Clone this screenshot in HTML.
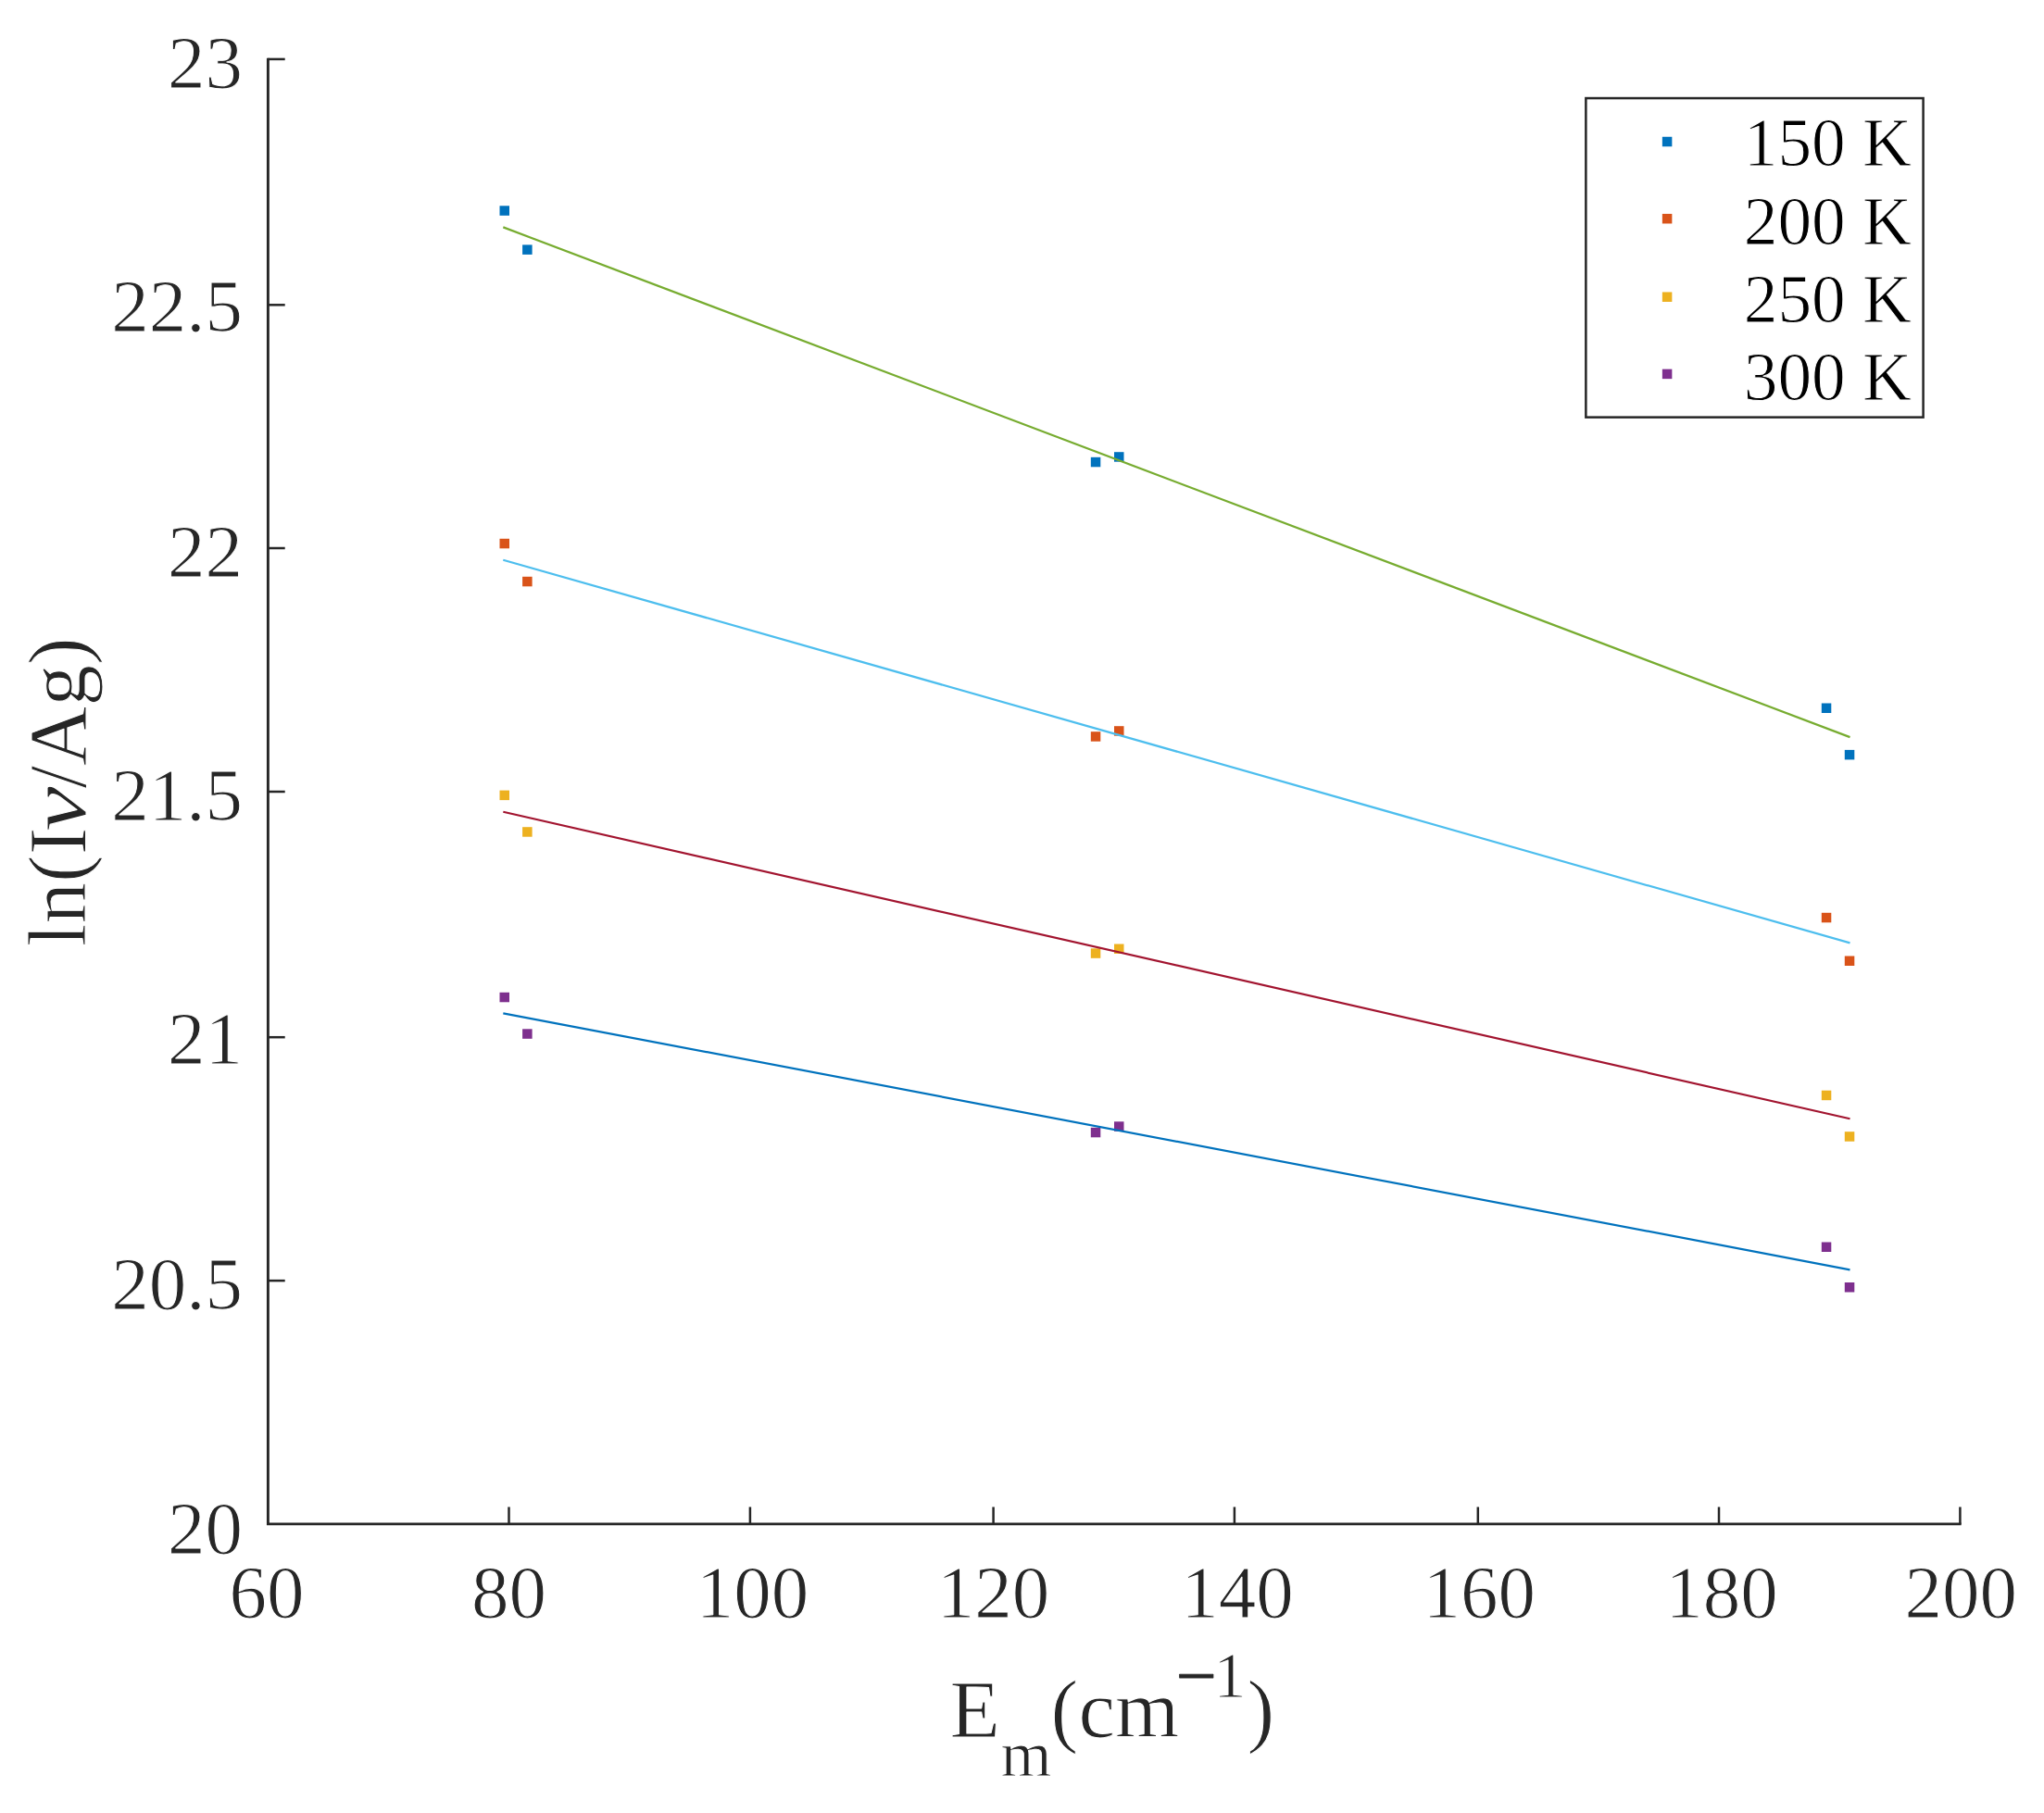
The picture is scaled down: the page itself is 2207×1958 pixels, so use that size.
<!DOCTYPE html>
<html lang="en"><head><meta charset="utf-8"><title>ln(Iν/Ag) vs Em</title>
<style>html,body{margin:0;padding:0;background:#fff}body{width:2207px;height:1958px;overflow:hidden}svg{display:block}text{font-family:"Liberation Serif","Times New Roman",serif;stroke:#fff;stroke-width:1px;stroke-linejoin:round}</style></head><body>
<svg width="2207" height="1958" viewBox="0 0 2207 1958">
<rect width="2207" height="1958" fill="#fff"/>
<g stroke="#262626" fill="none" stroke-linecap="butt">
<path stroke-width="2.9" d="M289.40 62.65 V1645.90 H2117.65"/>
<g stroke-width="2.5">
<path d="M549.50 1645.90 V1627.5"/>
<path d="M809.90 1645.90 V1627.5"/>
<path d="M1072.60 1645.90 V1627.5"/>
<path d="M1332.90 1645.90 V1627.5"/>
<path d="M1595.80 1645.90 V1627.5"/>
<path d="M1856.00 1645.90 V1627.5"/>
<path d="M2116.40 1645.90 V1627.5"/>
<path d="M289.40 63.90 H307.7"/>
<path d="M289.40 329.30 H307.7"/>
<path d="M289.40 592.00 H307.7"/>
<path d="M289.40 855.00 H307.7"/>
<path d="M289.40 1120.20 H307.7"/>
<path d="M289.40 1383.10 H307.7"/>
</g></g>
<g fill="#262626" font-size="81px">
<text x="288.1" y="1747.1" text-anchor="middle">60</text>
<text x="549.5" y="1747.1" text-anchor="middle">80</text>
<text x="812.4" y="1747.1" text-anchor="middle">100</text>
<text x="1072.6" y="1747.1" text-anchor="middle">120</text>
<text x="1335.9" y="1747.1" text-anchor="middle">140</text>
<text x="1597.2" y="1747.1" text-anchor="middle">160</text>
<text x="1859.0" y="1747.1" text-anchor="middle">180</text>
<text x="2117.3" y="1747.1" text-anchor="middle">200</text>
<text x="262" y="95.1" text-anchor="end">23</text>
<text x="262" y="357.7" text-anchor="end">22.5</text>
<text x="262" y="623.0" text-anchor="end">22</text>
<text x="262" y="885.9" text-anchor="end">21.5</text>
<text x="262" y="1148.6" text-anchor="end">21</text>
<text x="262" y="1413.8" text-anchor="end">20.5</text>
<text x="262" y="1678.0" text-anchor="end">20</text>
</g>
<g fill="#262626" font-size="89px">
<text><tspan x="1025.6" y="1875.5">E</tspan><tspan x="1080.4" y="1917.5" font-size="70.8px">m</tspan><tspan x="1134.5" y="1875.5">(</tspan><tspan x="1164.5" y="1875.5">cm</tspan><tspan x="1269.8" y="1836.2" font-size="78px" style="stroke:#262626;stroke-width:0.8px">−</tspan><tspan x="1310.3" y="1833" font-size="70.8px">1</tspan><tspan x="1346.4" y="1875.5">)</tspan></text>
<text transform="translate(91.8 857) rotate(-90)"><tspan x="-165.2" y="0">ln(I</tspan><tspan x="-41" y="0" font-style="italic" textLength="48.8" lengthAdjust="spacingAndGlyphs">ν</tspan><tspan x="5.4" y="0">/Ag)</tspan></text>
</g>
<g fill="#0072BD">
<rect x="539.5" y="222.3" width="10.5" height="10.5"/>
<rect x="564.1" y="264.4" width="10.5" height="10.5"/>
<rect x="1177.8" y="493.8" width="10.5" height="10.5"/>
<rect x="1203.0" y="488.2" width="10.5" height="10.5"/>
<rect x="1966.8" y="759.5" width="10.5" height="10.5"/>
<rect x="1991.8" y="809.9" width="10.5" height="10.5"/>
</g>
<g fill="#D95319">
<rect x="539.5" y="581.8" width="10.5" height="10.5"/>
<rect x="564.1" y="622.8" width="10.5" height="10.5"/>
<rect x="1177.8" y="790.2" width="10.5" height="10.5"/>
<rect x="1203.0" y="784.2" width="10.5" height="10.5"/>
<rect x="1966.8" y="985.8" width="10.5" height="10.5"/>
<rect x="1991.8" y="1032.5" width="10.5" height="10.5"/>
</g>
<g fill="#EDB120">
<rect x="539.5" y="853.6" width="10.5" height="10.5"/>
<rect x="564.1" y="893.2" width="10.5" height="10.5"/>
<rect x="1177.8" y="1024.3" width="10.5" height="10.5"/>
<rect x="1203.0" y="1019.5" width="10.5" height="10.5"/>
<rect x="1966.8" y="1177.7" width="10.5" height="10.5"/>
<rect x="1991.8" y="1222.2" width="10.5" height="10.5"/>
</g>
<g fill="#7E2F8E">
<rect x="539.5" y="1071.8" width="10.5" height="10.5"/>
<rect x="564.1" y="1111.3" width="10.5" height="10.5"/>
<rect x="1177.8" y="1217.8" width="10.5" height="10.5"/>
<rect x="1203.0" y="1211.3" width="10.5" height="10.5"/>
<rect x="1966.8" y="1341.5" width="10.5" height="10.5"/>
<rect x="1991.8" y="1385.0" width="10.5" height="10.5"/>
</g>
<line x1="543.3" y1="245.4" x2="1997.5" y2="796.1" stroke="#77AC30" stroke-width="2.2"/>
<line x1="543.3" y1="604.7" x2="1997.5" y2="1018.4" stroke="#4DBEEE" stroke-width="2.2"/>
<line x1="543.3" y1="876.8" x2="1997.5" y2="1208.3" stroke="#A2142F" stroke-width="2.2"/>
<line x1="543.3" y1="1094.3" x2="1997.5" y2="1371.3" stroke="#0072BD" stroke-width="2.2"/>
<rect x="1712.35" y="106.05" width="364.25" height="344.6" fill="#fff" stroke="#262626" stroke-width="2.5"/>
<g fill="#000" font-size="73.3px">
<rect x="1794.85" y="147.75" width="10.5" height="10.5" fill="#0072BD"/>
<text x="1882.8" y="179.2">150 K</text>
<rect x="1794.85" y="230.95" width="10.5" height="10.5" fill="#D95319"/>
<text x="1882.8" y="263.7">200 K</text>
<rect x="1794.85" y="315.45" width="10.5" height="10.5" fill="#EDB120"/>
<text x="1882.8" y="347.9">250 K</text>
<rect x="1794.85" y="398.65" width="10.5" height="10.5" fill="#7E2F8E"/>
<text x="1882.8" y="431.8">300 K</text>
</g>
</svg></body></html>
